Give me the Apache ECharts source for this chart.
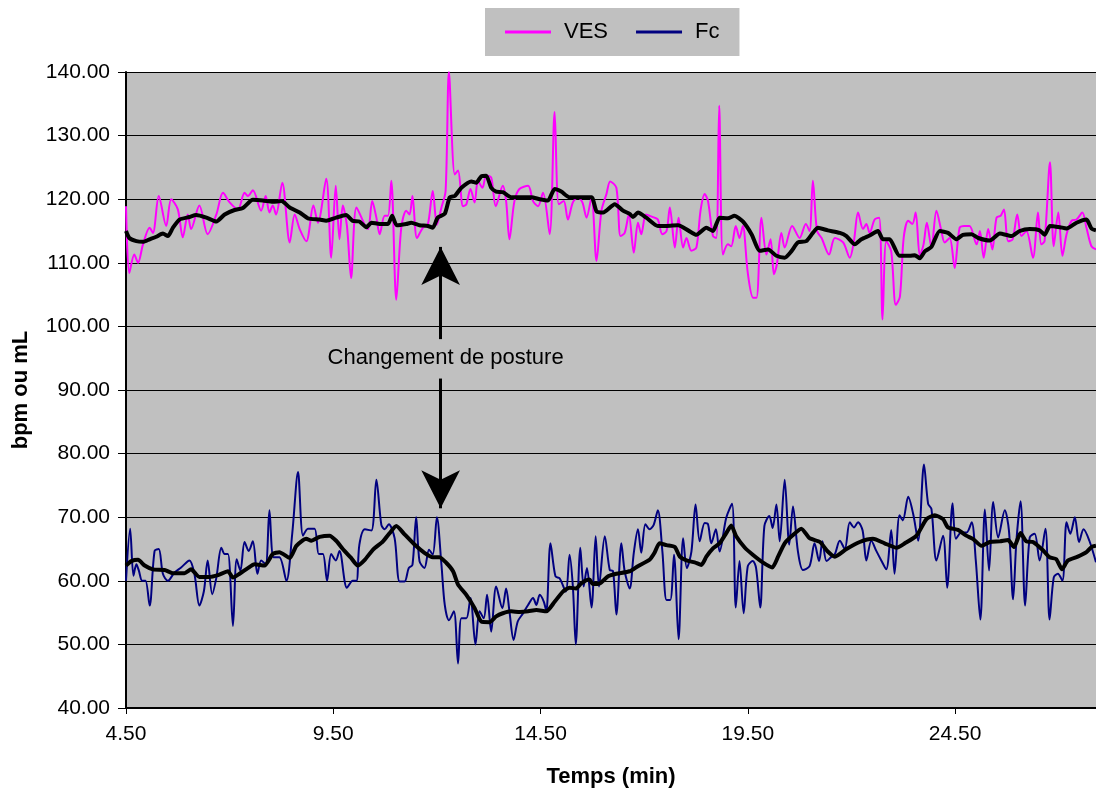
<!DOCTYPE html>
<html>
<head>
<meta charset="utf-8">
<script src="https://cdn.jsdelivr.net/npm/echarts/dist/echarts.min.js"></script>
<style>
html, body { margin: 0; padding: 0; background: #fff; }
#main { width: 1096px; height: 794px; }
</style>
</head>
<body>
<div id="main"></div>
<script>
// [temps (min), valeur]
var ves = [
  [4.5,118.9],[4.58,108.4],[4.7,111.3],[4.79,110],[4.91,112.9],[5.07,115.5],[5.15,114.7],[5.29,120.5],[5.47,115.8],[5.59,120],
  [5.75,118.4],[5.87,114],[5.99,117.6],[6.07,115.3],[6.27,119],[6.47,114.5],[6.68,117.6],[6.84,121],[7.0,119.5],[7.2,118.4],
  [7.36,121],[7.44,120.5],[7.56,121.4],[7.76,118.2],[7.87,120.5],[7.96,117.9],[8.04,119],[8.12,117.6],[8.27,122.6],[8.45,113.2],
  [8.57,117.6],[8.69,115.3],[8.85,113.4],[9.02,119],[9.13,116.3],[9.33,123.2],[9.45,110.8],[9.56,122.1],[9.65,113.7],[9.73,119],
  [9.83,115.8],[9.93,107.6],[10.06,118.7],[10.26,116],[10.34,115.3],[10.44,119.7],[10.54,117.1],[10.62,114.5],[10.74,117.4],[10.82,117.4],
  [10.9,122.9],[11.02,104.2],[11.14,115.5],[11.26,118.2],[11.34,117.6],[11.41,120.5],[11.52,113.9],[11.66,115.5],[11.78,116],[11.9,121.3],
  [12.0,116],[12.11,118.7],[12.21,121.3],[12.29,140],[12.43,123.9],[12.51,124.5],[12.63,118.9],[12.71,119.2],[12.81,121.6],[12.91,119.5],
  [12.99,122.9],[13.1,121.8],[13.19,123.7],[13.31,123.4],[13.42,118.9],[13.59,122.1],[13.67,119.7],[13.75,113.7],[13.87,119.7],[13.99,121.6],
  [14.2,122.1],[14.32,119.7],[14.44,118.9],[14.56,121],[14.72,114.5],[14.84,133.7],[14.94,119.2],[15.06,119.7],[15.16,116.8],[15.28,119.5],
  [15.4,120.3],[15.51,119.5],[15.61,117.1],[15.73,120.3],[15.85,110.3],[15.97,118.2],[16.09,120.8],[16.18,122.8],[16.33,121.8],[16.43,114.2],
  [16.53,114.7],[16.63,117.6],[16.75,111.6],[16.85,116.3],[16.93,114.5],[17.04,117.6],[17.13,117.4],[17.25,117.1],[17.33,116.8],[17.44,114.5],
  [17.54,115],[17.62,118.7],[17.74,112.4],[17.83,117.1],[17.94,112.4],[18.02,113.9],[18.14,111.9],[18.26,112.4],[18.36,118.2],[18.46,120.8],
  [18.54,119.7],[18.66,114.2],[18.74,113.9],[18.81,134.7],[18.9,111.3],[19.02,112.9],[19.1,112.6],[19.21,115.8],[19.3,113.9],[19.38,115.8],
  [19.5,108.4],[19.63,104.5],[19.71,104.5],[19.83,117.1],[19.95,111.3],[20.05,113.7],[20.13,108.2],[20.2,109.7],[20.31,114.7],[20.39,112.4],
  [20.57,115.8],[20.75,113.9],[20.9,116.1],[20.99,115],[21.07,122.9],[21.17,115],[21.28,113.9],[21.46,111.3],[21.6,113.9],[21.8,113.2],
  [21.96,110.8],[22.06,113.4],[22.16,117.9],[22.28,115.3],[22.36,116.1],[22.44,114.7],[22.56,116.8],[22.67,117.1],[22.75,101.1],[22.84,113.4],
  [22.96,111.8],[23.07,103.4],[23.17,104.7],[23.26,113.9],[23.37,116.6],[23.47,116.1],[23.55,117.9],[23.65,111.1],[23.74,112.9],[23.82,116.3],
  [23.93,112.4],[24.05,118.2],[24.17,115],[24.25,113.2],[24.37,113.9],[24.49,109.2],[24.61,115.5],[24.73,115.8],[24.85,115.8],[25.02,112.9],
  [25.1,115],[25.19,110.8],[25.3,115.3],[25.4,112.1],[25.5,117.1],[25.6,117.4],[25.68,118.4],[25.78,113.4],[25.89,113.7],[26.0,117.6],
  [26.1,114.2],[26.22,115],[26.38,110.8],[26.5,117.9],[26.58,112.9],[26.66,113.4],[26.79,125.8],[26.88,112.6],[26.99,117.9],[27.09,111.1],
  [27.19,114.5],[27.31,116.6],[27.43,116.8],[27.57,117.9],[27.67,115.5],[27.79,112.6],[27.9,112.1]
];

var vesMoy = [
  [4.5,115],[4.58,113.9],[4.75,113.4],[4.91,113.3],[5.07,113.7],[5.23,114.1],[5.39,114.6],[5.51,114.2],[5.63,115.5],[5.79,116.8],
  [6.03,117.2],[6.19,117.5],[6.44,117.1],[6.68,116.5],[6.88,117.6],[7.12,118.3],[7.32,118.6],[7.56,119.9],[7.8,119.8],[8.04,119.6],
  [8.25,119.7],[8.45,118.7],[8.69,117.9],[8.89,117],[9.17,116.8],[9.33,116.6],[9.57,117.1],[9.81,117.5],[9.97,116.6],[10.13,116.5],
  [10.3,115.6],[10.42,116.3],[10.62,116.1],[10.82,116.1],[10.92,117.4],[11.03,115.9],[11.26,116.1],[11.38,116.3],[11.58,115.9],[11.78,115.8],
  [11.9,115.5],[12.02,117.1],[12.19,117.7],[12.31,120.3],[12.43,120.5],[12.59,121.8],[12.83,122.8],[12.95,122.6],[13.07,123.6],[13.19,123.7],
  [13.31,121.8],[13.43,121.2],[13.59,121.1],[13.8,120.3],[14.04,120.3],[14.28,120.3],[14.48,120],[14.68,119.8],[14.84,121.6],[15.0,121.2],
  [15.2,120.3],[15.44,120.3],[15.73,120.3],[15.85,118.1],[16.01,117.9],[16.29,119.2],[16.49,118.2],[16.65,117.7],[16.73,117.2],[16.85,117.9],
  [17.05,117.1],[17.33,115.8],[17.54,115.8],[17.82,115.9],[18.06,115.1],[18.26,114.4],[18.5,115.5],[18.66,115],[18.82,117.1],[19.02,117],
  [19.18,117.4],[19.38,116.5],[19.59,114.5],[19.79,111.9],[19.99,112.1],[20.19,111.1],[20.39,110.8],[20.55,111.8],[20.71,113.2],[20.91,113.4],
  [21.07,114.7],[21.19,115.5],[21.43,115.1],[21.72,114.7],[21.88,114.2],[22.08,112.9],[22.24,113.7],[22.44,114.3],[22.64,115],[22.76,113.7],
  [22.92,113.7],[23.16,111.1],[23.41,111.1],[23.53,111.2],[23.65,110.7],[23.77,111.8],[23.93,112.5],[24.13,115],[24.33,114.7],[24.53,113.7],
  [24.69,114.4],[24.9,114.5],[25.06,113.9],[25.34,113.5],[25.58,114.6],[25.86,114.2],[26.06,115],[26.3,115.3],[26.54,115.1],[26.66,114.4],
  [26.79,115.8],[27.03,115.6],[27.19,115.4],[27.43,116.3],[27.67,116.8],[27.79,115.4],[27.9,115.1]
];

var fc = [
  [4.5,60],[4.6,68.2],[4.68,60.8],[4.75,62.6],[4.81,61.6],[4.89,60],[4.97,60],[5.07,56.1],[5.19,64.7],[5.29,65],
  [5.39,61.1],[5.51,60],[5.67,61.3],[5.83,62.1],[6.03,63.2],[6.15,61.1],[6.27,56.1],[6.38,58.4],[6.47,63.2],[6.58,57.9],
  [6.68,60.5],[6.8,65.2],[6.88,64.2],[6.96,64.2],[7.08,52.9],[7.17,63.4],[7.26,61.6],[7.36,66.1],[7.46,64.7],[7.56,66.2],
  [7.67,61.1],[7.76,63.2],[7.87,62.6],[7.96,71.1],[8.06,63.7],[8.2,63.7],[8.37,60],[8.51,67.4],[8.65,77.1],[8.77,67.1],
  [8.89,68.2],[9.05,68.2],[9.15,64.2],[9.25,64.2],[9.35,60],[9.45,64.2],[9.56,63.2],[9.65,64.7],[9.83,58.9],[9.97,60],
  [10.06,60],[10.13,65.7],[10.26,68.1],[10.42,67.9],[10.54,75.9],[10.66,68.8],[10.74,68.1],[10.84,68.9],[10.98,66.7],[11.1,59.9],
  [11.22,59.9],[11.32,62],[11.41,62.5],[11.5,70],[11.58,63.1],[11.7,62],[11.81,64.9],[11.9,64.1],[12.0,70],[12.11,62.5],
  [12.19,56.2],[12.29,53.8],[12.41,55.2],[12.51,47],[12.59,54.1],[12.71,54.1],[12.81,57.3],[12.93,50],[13.03,55.2],[13.13,54.1],
  [13.21,57.8],[13.31,52],[13.43,59.1],[13.58,55.7],[13.67,58.8],[13.75,55.2],[13.85,50.7],[13.95,53.6],[14.08,54.9],[14.2,56.2],
  [14.32,57.3],[14.4,56.2],[14.48,57.8],[14.58,56.7],[14.64,55.2],[14.74,65.9],[14.86,60.7],[14.96,60.4],[15.11,58.3],[15.2,64.1],
  [15.28,59.1],[15.35,50],[15.46,65.2],[15.54,59.1],[15.62,62],[15.73,55.8],[15.83,67],[15.91,59.1],[16.05,67],[16.17,61.7],
  [16.25,61.5],[16.33,54.7],[16.45,65.9],[16.53,61.5],[16.65,58.8],[16.75,64.4],[16.85,68.1],[16.93,64.4],[17.03,68.9],[17.13,68.1],
  [17.23,68.8],[17.33,71.1],[17.44,64.6],[17.54,57],[17.63,57],[17.72,64.1],[17.83,50.8],[17.94,66.7],[18.03,62],[18.14,64.6],
  [18.24,72],[18.34,66.2],[18.46,69.1],[18.54,68.9],[18.62,65.9],[18.73,68.1],[18.82,64.6],[18.98,69.9],[19.12,72.1],[19.21,55.8],
  [19.3,63.1],[19.4,54.9],[19.5,62.3],[19.62,63.1],[19.7,62],[19.8,55.8],[19.9,68.6],[20.02,70.2],[20.1,68.3],[20.19,72],
  [20.27,66.2],[20.39,75.9],[20.5,65.7],[20.59,71.7],[20.71,64.6],[20.83,61.7],[20.99,62.3],[21.11,65.9],[21.22,63.1],[21.3,66.2],
  [21.4,63.1],[21.52,63.8],[21.6,64.2],[21.72,66.3],[21.84,65],[21.96,69.2],[22.06,68.4],[22.16,69.2],[22.27,67.9],[22.36,63.2],
  [22.48,66.3],[22.6,64.7],[22.72,63.2],[22.84,61.8],[22.96,68],[23.04,61.1],[23.16,70.3],[23.24,69.5],[23.37,73.2],[23.49,70.5],
  [23.61,66.3],[23.75,78.3],[23.85,72.1],[23.93,71.3],[24.05,63.2],[24.21,67.1],[24.31,58.9],[24.44,72.2],[24.52,66.6],[24.65,67.6],
  [24.78,67.6],[24.9,69.2],[25.0,63.2],[25.11,53.9],[25.22,71.2],[25.32,61.6],[25.42,72.4],[25.54,66.8],[25.7,71.1],[25.8,67.9],
  [25.9,57.1],[25.98,66.3],[26.08,72.5],[26.19,56.1],[26.3,66.8],[26.42,67.4],[26.54,63.2],[26.68,68.2],[26.78,53.9],[26.88,60.5],
  [26.98,61.1],[27.09,60],[27.19,69.2],[27.28,67.4],[27.39,70],[27.49,66.1],[27.6,68.1],[27.74,66.3],[27.9,62.9]
];

var fcMoy = [
  [4.5,62.4],[4.63,63.1],[4.79,63.3],[4.95,62.4],[5.15,61.8],[5.43,61.7],[5.63,61.2],[5.91,61.2],[6.07,61.8],[6.27,60.6],
  [6.51,60.6],[6.72,60.9],[6.96,61.5],[7.08,60.5],[7.24,61.1],[7.44,62],[7.6,62.6],[7.84,62.4],[8.04,64.2],[8.2,64.5],
  [8.45,63.6],[8.61,65.5],[8.85,66.6],[8.97,66.3],[9.17,66.9],[9.41,67.1],[9.57,66.3],[9.73,65],[9.93,63.6],[10.09,62.4],
  [10.26,63.3],[10.46,64.9],[10.7,66.2],[10.86,67.5],[11.02,68.6],[11.22,67.3],[11.46,65.7],[11.7,64.4],[11.9,63.7],[12.06,63.7],
  [12.23,62.8],[12.39,61.5],[12.51,59.4],[12.71,57.8],[12.91,55.7],[13.07,53.6],[13.27,53.5],[13.43,54.4],[13.59,54.9],[13.79,55.2],
  [14.0,55.1],[14.2,55.2],[14.4,55.4],[14.64,55.2],[14.84,56.7],[15.04,58.3],[15.2,58.9],[15.36,58.8],[15.48,59.6],[15.68,60.2],
  [15.76,59.5],[15.93,59.6],[16.13,60.7],[16.33,61.1],[16.65,61.5],[16.85,62.3],[17.13,63.3],[17.25,64.4],[17.37,65.9],[17.54,65.6],
  [17.74,65.3],[17.86,63.8],[18.02,63.2],[18.22,62.9],[18.38,62.5],[18.5,63.8],[18.66,65.1],[18.82,65.9],[18.98,67.5],[19.1,68.7],
  [19.22,67],[19.43,65.2],[19.62,64.1],[19.86,62.9],[20.09,62.1],[20.23,63.8],[20.39,65.9],[20.59,67.2],[20.79,68.2],[20.99,66.7],
  [21.24,66.1],[21.43,64.6],[21.6,63.8],[21.88,65],[22.2,66.1],[22.52,66.6],[22.8,65.9],[23.09,65.2],[23.29,65.9],[23.57,67.1],
  [23.81,69.7],[24.01,70.3],[24.21,69.7],[24.33,68.4],[24.57,68],[24.77,67.1],[24.93,66.6],[25.14,65.5],[25.34,66.1],[25.58,66.2],
  [25.78,66.4],[25.92,65.3],[26.08,67.5],[26.22,66.2],[26.38,66.1],[26.62,64.8],[26.78,63.7],[26.94,63.4],[27.08,61.8],[27.22,63.2],
  [27.46,63.8],[27.67,64.5],[27.79,65.3],[27.9,65.5]
];

var xTicks = [4.5, 9.5, 14.5, 19.5, 24.5];

// annotation : double fleche "Changement de posture"
var flecheX = 12.09;
var flecheHaut = [98, 112.5];
var flecheBas = [91.8, 71.4];
var texteAnnot = [12.21, 95];

var police = 'Liberation Sans, Arial, sans-serif';

var myChart = echarts.init(document.getElementById('main'));
var option = {
    animation: false,
    textStyle: { fontFamily: police },
    legend: {
        data: ['VES', 'Fc'],
        left: 485,
        top: 8,
        padding: [13, 20],
        backgroundColor: '#c0c0c0',
        icon: 'rect',
        itemWidth: 46,
        itemHeight: 3,
        itemGap: 28,
        textStyle: { fontSize: 22, color: '#000', fontFamily: police, padding: [0, 0, 0, 8] }
    },
    grid: {
        left: 126,
        right: 0,
        top: 72,
        bottom: 86,
        show: true,
        backgroundColor: '#c0c0c0',
        borderWidth: 0
    },
    xAxis: {
        type: 'value',
        min: 4.5,
        max: 27.9,
        name: 'Temps (min)',
        nameLocation: 'middle',
        nameGap: 58,
        nameTextStyle: { fontSize: 22, fontWeight: 'bold', color: '#000', fontFamily: police },
        axisLine: { lineStyle: { color: '#000', width: 2 } },
        axisTick: { show: true, length: 6, customValues: xTicks, lineStyle: { color: '#000' } },
        axisLabel: {
            customValues: xTicks,
            fontSize: 21,
            color: '#000',
            margin: 16,
            formatter: function (v) { return v.toFixed(2); }
        },
        splitLine: { show: false }
    },
    yAxis: {
        type: 'value',
        min: 40,
        max: 140,
        interval: 10,
        name: 'bpm ou mL',
        nameLocation: 'middle',
        nameRotate: 90,
        nameGap: 94,
        nameTextStyle: { fontSize: 22, fontWeight: 'bold', color: '#000', fontFamily: police },
        axisLine: { show: true, lineStyle: { color: '#000', width: 2 } },
        axisTick: { show: true, length: 8, lineStyle: { color: '#000' } },
        axisLabel: {
            fontSize: 21,
            color: '#000',
            margin: 16,
            formatter: function (v) { return v.toFixed(2); }
        },
        splitLine: { show: true, lineStyle: { color: '#000', width: 1 } }
    },
    series: [
        {
            name: 'VES',
            type: 'line',
            data: ves,
            symbol: 'none',
            smooth: 0.3,
            color: '#ff00ff',
            lineStyle: { color: '#ff00ff', width: 2 },
            z: 2
        },
        {
            name: 'Fc',
            type: 'line',
            data: fc,
            symbol: 'none',
            smooth: 0.3,
            color: '#000080',
            lineStyle: { color: '#000080', width: 2 },
            z: 2
        },
        {
            name: 'Moy VES',
            type: 'line',
            data: vesMoy,
            symbol: 'none',
            smooth: 0.2,
            lineStyle: { color: '#000', width: 4 },
            z: 3
        },
        {
            name: 'Moy Fc',
            type: 'line',
            data: fcMoy,
            symbol: 'none',
            smooth: 0.2,
            lineStyle: { color: '#000', width: 4 },
            z: 3,
            markLine: {
                silent: true,
                symbol: ['none', 'arrow'],
                label: { show: false },
                lineStyle: { color: '#000', width: 3, type: 'solid' },
                itemStyle: { color: '#000' },
                emphasis: { disabled: true },
                data: [
                    [
                        { coord: [flecheX, flecheHaut[0]], symbol: 'none', symbolSize: 0 },
                        { coord: [flecheX, flecheHaut[1]], symbol: 'arrow', symbolSize: [29, 38] }
                    ],
                    [
                        { coord: [flecheX, flecheBas[0]], symbol: 'none', symbolSize: 0 },
                        { coord: [flecheX, flecheBas[1]], symbol: 'arrow', symbolSize: [29, 38] }
                    ]
                ]
            },
            markPoint: {
                silent: true,
                symbol: 'rect',
                symbolSize: 1,
                itemStyle: { color: 'rgba(0,0,0,0)' },
                label: {
                    show: true,
                    position: 'inside',
                    fontSize: 22,
                    color: '#000',
                    fontFamily: police,
                    formatter: 'Changement de posture'
                },
                data: [{ coord: texteAnnot }]
            }
        }
    ]
};
myChart.setOption(option);
</script>
</body>
</html>
